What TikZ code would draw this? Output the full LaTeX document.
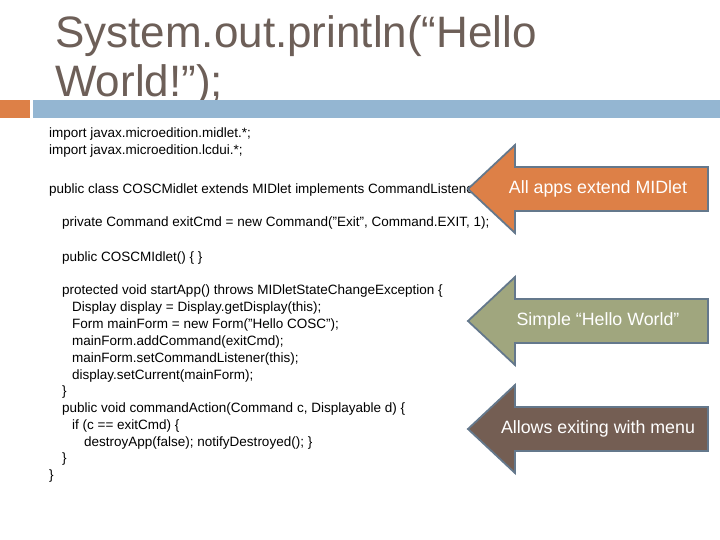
\documentclass[tikz,border=0pt]{standalone}
\usepackage{fontspec}
\setmainfont{Liberation Sans}
\begin{document}
\begin{tikzpicture}[x=1pt,y=-1pt,
  code/.style={anchor=base west,inner sep=0pt,font=\fontsize{13.5}{14}\selectfont,text=black},
  title/.style={anchor=base west,inner sep=0pt,font=\fontsize{44}{46}\selectfont,text=titlec},
  arrowshape/.style={draw=edgec,line width=1.8pt,line join=miter},
  lbl/.style={text=white,font=\fontsize{17.8}{19}\selectfont,inner sep=0pt}]
\definecolor{titlec}{RGB}{109,95,88}
\definecolor{barblue}{RGB}{148,182,210}
\definecolor{barorange}{RGB}{221,128,71}
\definecolor{olive}{RGB}{160,166,126}
\definecolor{brownc}{RGB}{116,94,83}
\definecolor{edgec}{RGB}{100,120,140}
\useasboundingbox (0,0) rectangle (720,540);
\fill[white] (0,0) rectangle (720,540);
\node[title] (t1) at (55,48) {System.out.println(“Hello};
\node[title] (t2) at (55,97) {World!”);};
\fill[barorange] (0,100) rectangle (30,118);
\fill[barblue] (33,100) rectangle (720,118);
\node[code] (c1) at (49,138) {import javax.microedition.midlet.*;};
\node[code] (c2) at (49,155) {import javax.microedition.lcdui.*;};
\node[code] (c3) at (49,194) {public class COSCMidlet extends MIDlet implements CommandListener \{};
\node[code] (c4) at (62,226) {private Command exitCmd = new Command("Exit", Command.EXIT, 1);};
\node[code] (c5) at (62,261) {public COSCMIdlet() \{ \}};
\node[code] (c6) at (62,294) {protected void startApp() throws MIDletStateChangeException \{};
\node[code] (c7) at (72,311) {Display display = Display.getDisplay(this);};
\node[code] (c8) at (72,328) {Form mainForm = new Form("Hello COSC");};
\node[code] (c9) at (72,345) {mainForm.addCommand(exitCmd);};
\node[code] (c10) at (72,362) {mainForm.setCommandListener(this);};
\node[code] (c11) at (72,379) {display.setCurrent(mainForm);};
\node[code] (c12) at (62,395) {\}};
\node[code] (c13) at (62,412) {public void commandAction(Command c, Displayable d) \{};
\node[code] (c14) at (72,429) {if (c == exitCmd) \{};
\node[code] (c15) at (84,446) {destroyApp(false); notifyDestroyed(); \}};
\node[code] (c16) at (62,462) {\}};
\node[code] (c17) at (49,479) {\}};
\foreach \yc/\col/\txt/\nm in {189/barorange/All apps extend MIDlet/a1,321/olive/Simple “Hello World”/a2,429/brownc/Allows exiting with menu/a3}{
  \draw[arrowshape,fill=\col] (468,\yc) -- (515,\yc-44) -- (515,\yc-22) -- (708,\yc-22) -- (708,\yc+22) -- (515,\yc+22) -- (515,\yc+44) -- cycle;
  \node[lbl] (\nm) at (598,\yc) {\txt};
}
\end{tikzpicture}
\end{document}
